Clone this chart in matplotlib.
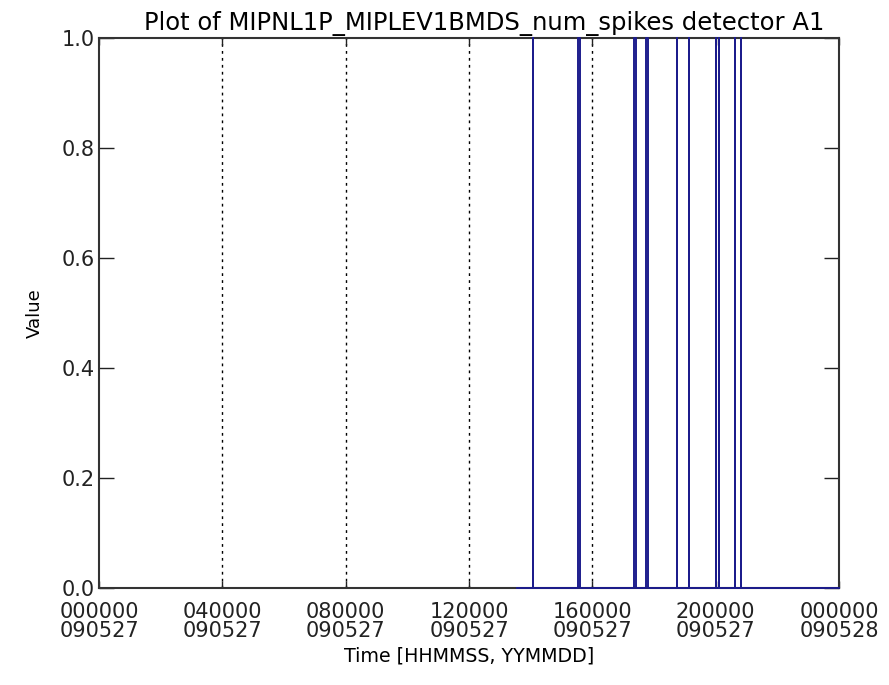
import numpy as np
import matplotlib
matplotlib.use("Agg")
import matplotlib.pyplot as plt

plt.rcParams['font.family'] = ['DejaVu Sans']

# Data (hours since 000000 090527)
data_start = 13.56
data_end = 24.0
spike_times = [14.08, 15.52, 17.34, 17.73, 18.75, 19.14, 20.01, 20.11, 20.63, 20.82]
spike_widths = [0.0, 0.07, 0.07, 0.07, 0.0, 0.0, 0.0, 0.0, 0.0, 0.0]
spike_values = [1.0] * len(spike_times)

tick_hours = [0, 4, 8, 12, 16, 20, 24]
tick_labels = ["000000\n090527", "040000\n090527", "080000\n090527",
               "120000\n090527", "160000\n090527", "200000\n090527",
               "000000\n090528"]
grid_hours = [4, 8, 12, 16]
y_ticks = [0.0, 0.2, 0.4, 0.6, 0.8, 1.0]

# build the trace: flat zero with spikes up to the value
t = [data_start]
v = [0.0]
for ts, w, val in zip(spike_times, spike_widths, spike_values):
    t += [ts, ts, ts + w, ts + w]
    v += [0.0, val, val, 0.0]
t.append(data_end)
v.append(0.0)

fig = plt.figure(figsize=(8.89, 6.85), dpi=100)
ax = fig.add_axes([0.1114, 0.1416, 0.8324, 0.8029])

for h in grid_hours:
    ax.axvline(h, color="black", linestyle=(0, (2, 3)), linewidth=1.0, zorder=1)

ax.plot(t, v, color="#1c1c8c", linewidth=1.4, zorder=3, clip_on=False)

ax.set_xlim(0, 24)
ax.set_ylim(0, 1)
ax.set_xticks(tick_hours)
ax.set_xticklabels(tick_labels, linespacing=0.95)
ax.set_yticks(y_ticks)
ax.set_yticklabels([f"{y:.1f}" for y in y_ticks])

ax.tick_params(axis="x", direction="in", length=5, width=1, top=True,
               labelsize=15, pad=10, colors="#222222")
ax.tick_params(axis="y", direction="in", length=11, width=1, right=True,
               labelsize=15, pad=3, colors="#222222")
for sp in ax.spines.values():
    sp.set_linewidth(1.5)
    sp.set_color("#333333")

ax.set_xlabel("Time [HHMMSS, YYMMDD]", fontsize=13.7, labelpad=4)
ax.set_ylabel("Value", fontsize=13, labelpad=13)
ax.set_title("Plot of MIPNL1P_MIPLEV1BMDS_num_spikes detector A1",
             fontsize=17.5, pad=6, x=0.52)

fig.savefig("out.png", dpi=100, facecolor="white")
